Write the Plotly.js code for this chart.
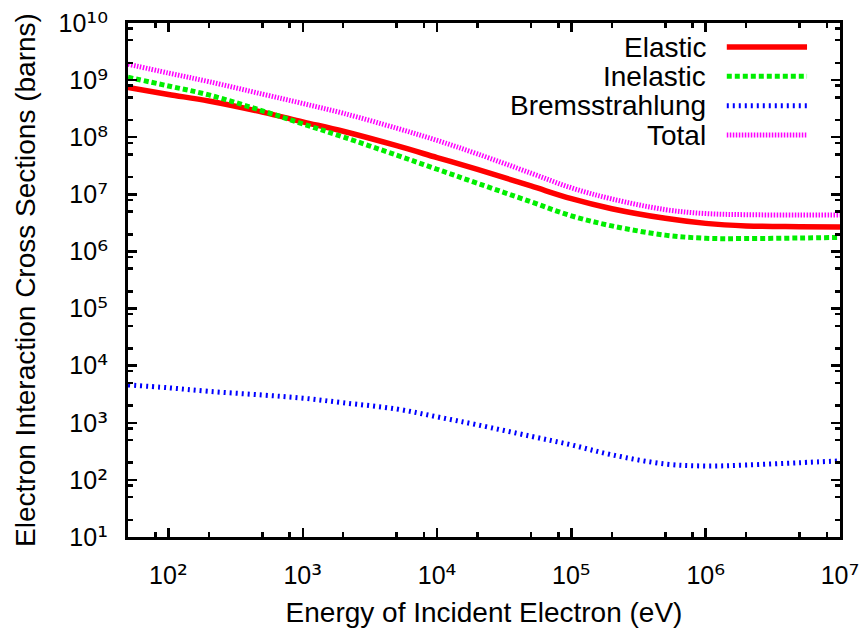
<!DOCTYPE html>
<html>
<head>
<meta charset="utf-8">
<script src="https://cdn.plot.ly/plotly-3.0.1.min.js"></script>
<style>
html, body { margin: 0; padding: 0; background: #ffffff; }
#chart { width: 865px; height: 628px; }
</style>
</head>
<body>
<div id="chart"></div>
<script>
// ---- Data ----
const energyEV = [50, 100, 200, 500, 1e3, 2e3, 5e3, 1e4, 2e4, 5e4, 1e5, 2e5, 5e5, 1e6, 2e6, 5e6, 1e7];

const elasticBarns = [7.4e8, 5.6e8, 4.3e8, 2.75e8, 1.86e8, 1.27e8, 7.1e7, 4.4e7, 2.73e7, 1.40e7, 8.4e6, 5.6e6, 3.8e6, 3.1e6, 2.8e6, 2.72e6, 2.69e6];
const inelasticBarns = [1.12e9, 7.9e8, 5.5e8, 2.9e8, 1.71e8, 1.01e8, 4.85e7, 2.75e7, 1.56e7, 7.4e6, 4.2e6, 2.8e6, 1.93e6, 1.70e6, 1.68e6, 1.72e6, 1.76e6];
const bremsBarns = [4600, 4100, 3550, 3060, 2700, 2240, 1740, 1270, 920, 580, 410, 275, 190, 175, 182, 200, 215];
const totalBarns = [1.9e9, 1.33e9, 9.4e8, 5.7e8, 3.9e8, 2.63e8, 1.44e8, 8.8e7, 5.1e7, 2.35e7, 1.30e7, 8.3e6, 5.4e6, 4.6e6, 4.4e6, 4.35e6, 4.35e6];

const seriesNames = ['Elastic', 'Inelastic', 'Bremsstrahlung', 'Total'];

const xTickVals = [1e2, 1e3, 1e4, 1e5, 1e6, 1e7];
const xTickExp = ['²', '³', '⁴', '⁵', '⁶', '⁷'];
const yTickVals = [1e1, 1e2, 1e3, 1e4, 1e5, 1e6, 1e7, 1e8, 1e9, 1e10];
const yTickExp = ['¹', '²', '³', '⁴', '⁵', '⁶', '⁷', '⁸', '⁹', '¹⁰'];

const xTitle = 'Energy of Incident Electron (eV)';
const yTitle = 'Electron Interaction Cross Sections (barns)';

// power-of-ten label: base in the tick font, exponent in a font with uniform superscript digits
const expStyle = 'font-family:DejaVu Sans;font-size:27px';
function powerLabel(e) { return '10<span style="' + expStyle + '">' + e + '</span>'; }

// ---- Styles ----
const styles = [
  { color: '#ff0000', width: 5.5, dash: 'solid' },
  { color: '#00ee00', width: 5, dash: '5px,3px' },
  { color: '#0000ff', width: 5, dash: '2px,4px' },
  { color: '#ff00ff', width: 5, dash: '1.5px,1.5px' }
];
const seriesValues = [elasticBarns, inelasticBarns, bremsBarns, totalBarns];

// minor ticks at 2, 5, 8 of every decade (gnuplot style of the reference)
function minorTicks(lo, hi) {
  const out = [];
  for (let d = lo; d < hi; d++) {
    [2, 5, 8].forEach(m => out.push(m * Math.pow(10, d)));
  }
  return out;
}

const traces = seriesValues.map((vals, i) => ({
  type: 'scatter',
  mode: 'lines',
  name: seriesNames[i],
  x: energyEV,
  y: vals,
  line: { color: styles[i].color, width: styles[i].width, dash: styles[i].dash, shape: 'spline', smoothing: 1 },
  showlegend: false,
  hoverinfo: 'x+y+name'
}));

// custom gnuplot-like key: text right-aligned, sample line on its right
const keyTextX = 0.8146, keySampleX0 = 0.841, keySampleX1 = 0.9537;
const keyTopY = 0.9533, keyStep = 0.0571;
const annotations = seriesNames.map((n, i) => ({
  xref: 'paper', yref: 'paper', x: keyTextX, y: keyTopY - i * keyStep,
  xanchor: 'right', yanchor: 'middle', showarrow: false,
  text: n, font: { size: 28, color: '#000' }
}));
const shapes = seriesNames.map((n, i) => ({
  type: 'line', xref: 'paper', yref: 'paper',
  x0: keySampleX0, x1: keySampleX1, y0: keyTopY - i * keyStep, y1: keyTopY - i * keyStep,
  line: { color: styles[i].color, width: styles[i].width, dash: styles[i].dash }
}));

const axisCommon = {
  type: 'log',
  ticks: 'inside', ticklen: 9, tickwidth: 2.5, tickcolor: '#000',
  showline: true, linewidth: 3, linecolor: '#000', mirror: 'allticks',
  showgrid: false, zeroline: false,
  tickmode: 'array',
  tickfont: { size: 25, color: '#000' }
};

const layout = {
  width: 865, height: 628,
  margin: { l: 128, r: 25, t: 23, b: 91 },
  paper_bgcolor: '#ffffff', plot_bgcolor: '#ffffff',
  font: { family: '"Liberation Sans", Arial, sans-serif', color: '#000', size: 25 },
  showlegend: false,
  xaxis: Object.assign({}, axisCommon, {
    range: [Math.log10(energyEV[0]), 7],
    tickvals: xTickVals, ticktext: xTickExp.map(powerLabel),
    ticklabelstandoff: 14,
    minor: { tickmode: 'array', tickvals: minorTicks(1, 7), ticks: 'inside', ticklen: 5, tickwidth: 2.5, tickcolor: '#000', showgrid: false },
    title: { text: xTitle, font: { size: 28, color: '#000' }, standoff: 14 }
  }),
  yaxis: Object.assign({}, axisCommon, {
    range: [1, 10],
    tickvals: yTickVals, ticktext: yTickExp.map(powerLabel),
    ticklabelstandoff: 12,
    minor: { tickmode: 'array', tickvals: minorTicks(1, 10), ticks: 'inside', ticklen: 5, tickwidth: 2.5, tickcolor: '#000', showgrid: false },
    title: { text: yTitle, font: { size: 28, color: '#000' }, standoff: 15 }
  }),
  annotations: annotations,
  shapes: shapes
};

Plotly.newPlot('chart', traces, layout, { displayModeBar: false, staticPlot: true });
</script>
</body>
</html>
